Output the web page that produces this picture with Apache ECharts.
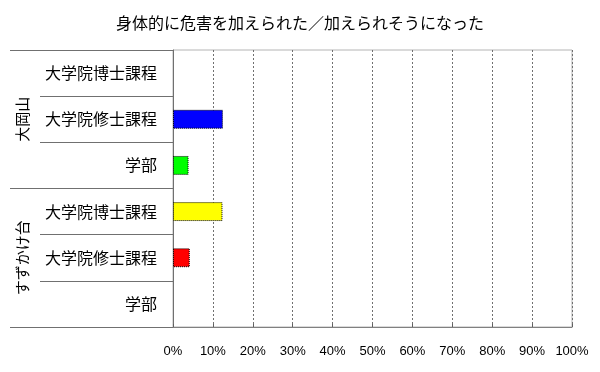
<!DOCTYPE html>
<html><head><meta charset="utf-8">
<script src="https://cdn.jsdelivr.net/npm/echarts@6/dist/echarts.min.js"></script>
<style>html,body{margin:0;padding:0;background:#fff}#c{width:600px;height:372px}</style>
</head><body><div id="c"></div>
<script>
const title = '身体的に危害を加えられた／加えられそうになった';
const categories = ['大学院博士課程', '大学院修士課程', '学部', '大学院博士課程', '大学院修士課程', '学部'];
const groups = ['大岡山', 'すずかけ台'];
const values = [0, 12.5, 3.9, 12.4, 4.2, 0];
const barColors = ['#ff00ff', '#0000ff', '#00ff00', '#ffff00', '#ff0000', '#00ffff'];
const xTicks = [0, 10, 20, 30, 40, 50, 60, 70, 80, 90, 100];

const jp = '"Noto Sans CJK JP", sans-serif';
const chart = echarts.init(document.getElementById('c'), null, {renderer: 'canvas'});
chart.setOption({
  animation: false,
  backgroundColor: '#fff',
  title: {text: title, left: 'center', top: 10,
    textStyle: {fontFamily: jp, fontSize: 16, fontWeight: 'normal', color: '#000'}},
  grid: {left: 173, right: 28, top: 50, bottom: 45, show: true, borderColor: '#b4b4b4', borderWidth: 1},
  xAxis: {type: 'value', min: xTicks[0], max: xTicks[xTicks.length - 1], interval: 10,
    axisLine: {show: true, lineStyle: {color: '#808080'}},
    axisTick: {show: true, inside: true, length: 3, lineStyle: {color: '#606060'}},
    splitLine: {show: true, lineStyle: {color: '#707070', type: [2, 2]}},
    axisLabel: {formatter: '{value}%', margin: 18, color: '#000', fontSize: 13, fontFamily: '"Liberation Sans", Arial, sans-serif'}},
  yAxis: [
    {type: 'category', data: categories, inverse: true,
      axisLine: {show: true, lineStyle: {color: '#707070'}},
      axisTick: {show: true, length: 133, lineStyle: {color: '#707070'}},
      axisLabel: {margin: 16, color: '#000', fontSize: 16, fontFamily: jp},
      splitLine: {show: false}},
    {type: 'category', data: groups, inverse: true, position: 'left',
      axisLine: {show: false},
      axisTick: {show: true, length: 163, lineStyle: {color: '#707070'}},
      axisLabel: {rotate: 90, margin: 143, color: '#000', fontSize: 15, fontFamily: jp},
      splitLine: {show: false}}
  ],
  series: [{
    type: 'bar', yAxisIndex: 0, barWidth: '41%',
    data: values.map((v, i) => ({value: v, itemStyle: {color: barColors[i], borderWidth: v > 0 ? 1 : 0}})),
    itemStyle: {borderColor: '#000', borderWidth: 1, borderType: 'dotted'}
  }]
});
</script></body></html>
